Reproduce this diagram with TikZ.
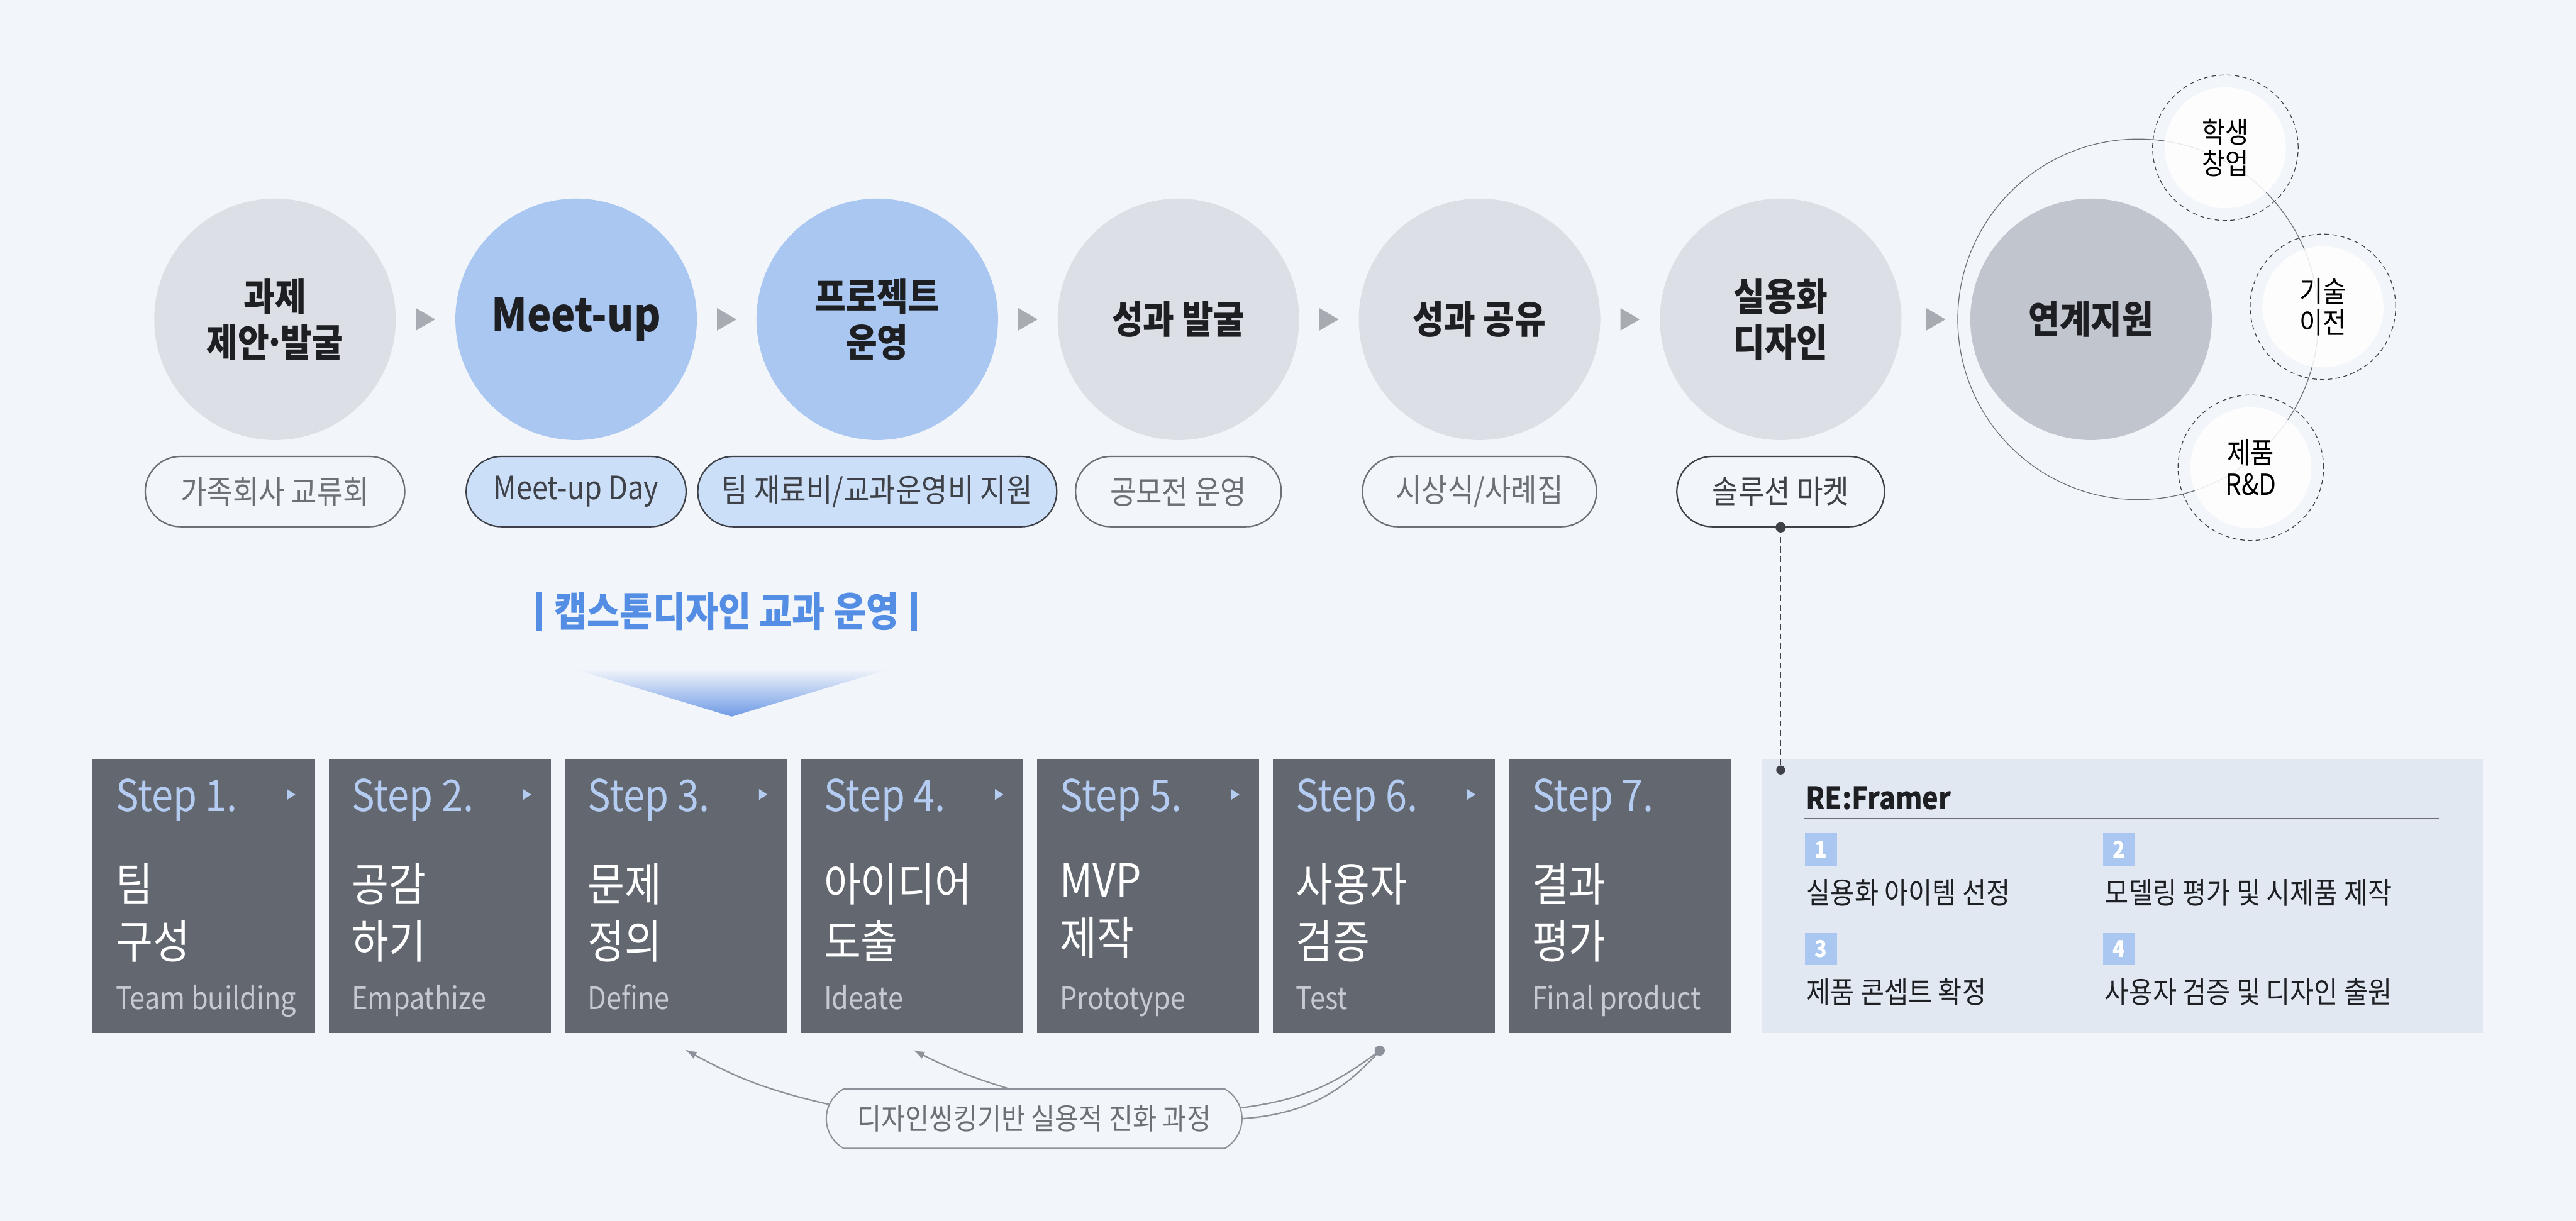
\documentclass[tikz,border=0pt]{standalone}
\usepackage{fontspec}
\setmainfont{Noto Sans CJK KR}[FakeStretch=0.88]
\usepackage{tikz}
\usetikzlibrary{positioning, arrows.meta, shapes.misc, calc}
\definecolor{seitenbg}{HTML}{F2F5FA}
\definecolor{kreisgrau}{HTML}{DCE0E6}
\definecolor{kreisblau}{HTML}{A9C7F1}
\definecolor{kreisdunkel}{HTML}{C1C5CD}
\definecolor{pillblau}{HTML}{CCDFF8}
\definecolor{stepgrau}{HTML}{63676F}
\definecolor{stepblau}{HTML}{B4CCF2}
\definecolor{stepsub}{HTML}{C6C9D0}
\definecolor{refbg}{HTML}{E1E8F2}
\definecolor{titelblau}{HTML}{538DE4}
\definecolor{verlaufblau}{HTML}{6F9BE5}
\definecolor{randgrau}{HTML}{6B6F76}
\definecolor{randdunkel}{HTML}{3E4248}
\definecolor{pfeilgrau}{HTML}{8C919A}
\definecolor{dreieckgrau}{HTML}{A8ACB2}
\definecolor{tinte}{HTML}{1E1F22}

\begin{document}
\begin{tikzpicture}[
    x=1pt, y=1pt,
    stage/.style={circle, minimum size=187.5pt, inner sep=0pt, fill=kreisgrau, text=tinte, align=center, font=\fontsize{30}{35.75}\selectfont\bfseries},
    stageblue/.style={stage, fill=kreisblau},
    stagelatin/.style={stageblue, font=\fontsize{36}{40}\selectfont\bfseries},
    pill/.style={rounded rectangle, draw=randgrau, line width=1.1pt, minimum height=54.5pt, inner sep=0pt, text=randgrau, font=\fontsize{25}{30}\selectfont},
    pilldark/.style={pill, draw=randdunkel, text=randdunkel},
    flowtri/.style={fill=dreieckgrau},
    orbit/.style={circle, draw=randgrau, line width=0.6pt, minimum size=280pt, inner sep=0pt},
    satellite/.style={circle, fill=white, fill opacity=0.85, text opacity=1, minimum size=94pt, inner sep=0pt, align=center, text=black, font=\fontsize{22.5}{24.5}\selectfont},
    ring/.style={circle, draw=randdunkel, dash pattern=on 3.5pt off 2.5pt, line width=0.6pt, minimum size=113pt, inner sep=0pt},
    stepbox/.style={fill=stepgrau, minimum width=172.5pt, minimum height=213.25pt, inner sep=0pt, anchor=north west},
    stepnum/.style={anchor=base west, text=stepblau, inner sep=0pt, font=\fontsize{34}{40}\selectfont},
    steptitle/.style={anchor=north west, text=white, inner sep=0pt, align=left, font=\fontsize{35.5}{44.5}\selectfont},
    stepsubtitle/.style={anchor=base west, text=stepsub, inner sep=0pt, font=\fontsize{24}{28}\selectfont},
    numbox/.style={fill=kreisblau, minimum size=25pt, inner sep=0pt, anchor=north west, text=white, font=\fontsize{18}{20}\selectfont\bfseries},
    item/.style={anchor=base west, inner sep=0pt, text=tinte, font=\fontsize{23}{27}\selectfont},
    loopline/.style={draw=pfeilgrau, line width=1.1pt},
    looptip/.style={-{Latex[length=9pt, width=6pt]}}
]

% Hintergrund
\fill[seitenbg] (0,0) rectangle (2000,-948);
\useasboundingbox (0,0) rectangle (2000,-948);

% Kreise der Prozesskette
\foreach \i/\txt/\sty in {1/{과제\\제안\kern-0.12em·\kern-0.12em발굴}/stage, 2/{Meet-up}/stagelatin, 3/{프로젝트\\운영}/stageblue, 4/{성과 발굴}/stage, 5/{성과 공유}/stage, 6/{실용화\\디자인}/stage}
    \node[\sty] (c\i) at ({213.5+233.8*(\i-1)},-248) {\txt};
\node[stage, fill=kreisdunkel] (c7) at (1623.5,-248) {연계지원};

% Dreiecke zwischen den Kreisen
\foreach \i [evaluate=\i as \j using int(\i+1)] in {1,...,6}
    \fill[flowtri] ($(c\i)!0.5!(c\j)$) ++(7.5,0) -- ++(-15,8.75) -- ++(0,-17.5) -- cycle;

% Pillen unter den Kreisen
\node[pill, minimum width=201.5pt, below=12pt of c1] (p1) {가족회사 교류회};
\node[pilldark, fill=pillblau, minimum width=170.75pt, below=12pt of c2] (p2) {Meet-up Day};
\node[pilldark, fill=pillblau, minimum width=278.75pt, below=12pt of c3] (p3) {팀 재료비/교과운영비 지원};
\node[pill, minimum width=159.75pt, below=12pt of c4] (p4) {공모전 운영};
\node[pill, minimum width=181.75pt, below=12pt of c5] (p5) {시상식/사례집};
\node[pilldark, minimum width=161.25pt, below=12pt of c6] (p6) {솔루션 마켓};

% Orbit mit Satelliten
\node[orbit] (orb) at (1660,-248) {};
\node[ring] (r1) at (1727.75,-114.75) {};
\node[satellite] (sat1) at (r1) {학생\\창업};
\node[ring] (r2) at (1803.5,-238.25) {};
\node[satellite] (sat2) at (r2) {기술\\이전};
\node[ring] (r3) at (1747.5,-363.25) {};
\node[satellite] (sat3) at (r3) {제품\\R\&D};

% Titel mit Verlaufsdreieck
\node[text=titelblau, font=\fontsize{31.5}{36}\selectfont\bfseries, inner sep=0pt] (title) at (564.25,-475)
    {\rule[-3.5pt]{4.25pt}{30.5pt}\hspace{9.5pt}캡스톤디자인 교과 운영\hspace{9.5pt}\rule[-3.5pt]{4.25pt}{30.5pt}};
\shade[top color=seitenbg, bottom color=verlaufblau] (444.75,-519.25) -- (691.5,-519.25) -- (568,-556.5) -- cycle;

% Schritte 1 bis 7
\foreach \i/\kr/\en in {1/{팀\\구성}/{Team building}, 2/{공감\\하기}/{Empathize}, 3/{문제\\정의}/{Define}, 4/{아이디어\\도출}/{Ideate}, 5/{MVP\\제작}/{Prototype}, 6/{사용자\\검증}/{Test}, 7/{결과\\평가}/{Final product}} {
    \node[stepbox] (s\i) at ({71.75+183.25*(\i-1)},-589) {};
    \node[stepnum] at ($(s\i.north west)+(18,-41.25)$) {Step \i.};
    \node[steptitle] at ($(s\i.north west)+(18,-81.5)$) {\kr};
    \node[stepsubtitle] at ($(s\i.north west)+(18,-195)$) {\en};
    \ifnum\i<7
        \fill[stepblau] ($(s\i.north west)+(151,-23.75)$) -- ++(6.5,-4.25) -- ++(-6.5,-4.25) -- cycle;
    \fi
}

% RE:Framer Kasten
\node[fill=refbg, minimum width=559.75pt, minimum height=213.25pt, inner sep=0pt, anchor=north west] (rf) at (1368,-589) {};
\node[anchor=base west, inner sep=0pt, text=tinte, font=\fontsize{24}{28}\selectfont\bfseries] (rftitle) at ($(rf.north west)+(33.75,-39.75)$) {RE:Framer};
\draw[randgrau, line width=0.75pt] ($(rf.north west)+(33,-46.5)$) -- ++(492.5,0);
\node[numbox] (n1) at ($(rf.north west)+(33,-58)$) {1};
\node[numbox] (n2) at ($(rf.north west)+(264.5,-58)$) {2};
\node[numbox] (n3) at ($(rf.north west)+(33,-135.25)$) {3};
\node[numbox] (n4) at ($(rf.north west)+(264.5,-135.25)$) {4};
\node[item] at ($(n1.south west)+(1.5,-29.5)$) {실용화 아이템 선정};
\node[item] at ($(n2.south west)+(1.5,-29.5)$) {모델링 평가 및 시제품 제작};
\node[item] at ($(n3.south west)+(1.5,-29.5)$) {제품 콘셉트 확정};
\node[item] at ($(n4.south west)+(1.5,-29.5)$) {사용자 검증 및 디자인 출원};

% Gestrichelte Verbindung zur RE:Framer
\coordinate (rfdot) at (1382.5,-598);
\draw[randdunkel, line width=0.6pt, dash pattern=on 4.5pt off 3pt] (p6.south) -- (rfdot);
\fill[randdunkel] (p6.south) circle (4pt);
\fill[randdunkel] (rfdot) circle (3.5pt);

% Rueckkopplung unter den Schritten
\node[rounded rectangle, rounded rectangle arc length=120, draw=pfeilgrau, line width=1pt, minimum width=322.75pt, minimum height=46pt, inner sep=0pt, text=randgrau, font=\fontsize{23}{27}\selectfont] (dt) at (802.9,-868.75) {디자인씽킹기반 실용적 진화 과정};
\coordinate (ti3) at ($(s3.south)+(7.25,-12.5)$);
\coordinate (ti4) at ($(s4.south)+(1,-12.75)$);
\coordinate (dot6) at ($(s6.south)+(-3.25,-13.25)$);
\draw[loopline, looptip] (dt.176) to[bend left=8] (ti3);
\draw[loopline, looptip] (dt.131) to[bend left=5] (ti4);
\draw[loopline] (dt.3) to[bend right=15] (dot6);
\draw[loopline] (dt.east) to[bend right=22] (dot6);
\fill[pfeilgrau] (dot6) circle (4pt);

\end{tikzpicture}
\end{document}
